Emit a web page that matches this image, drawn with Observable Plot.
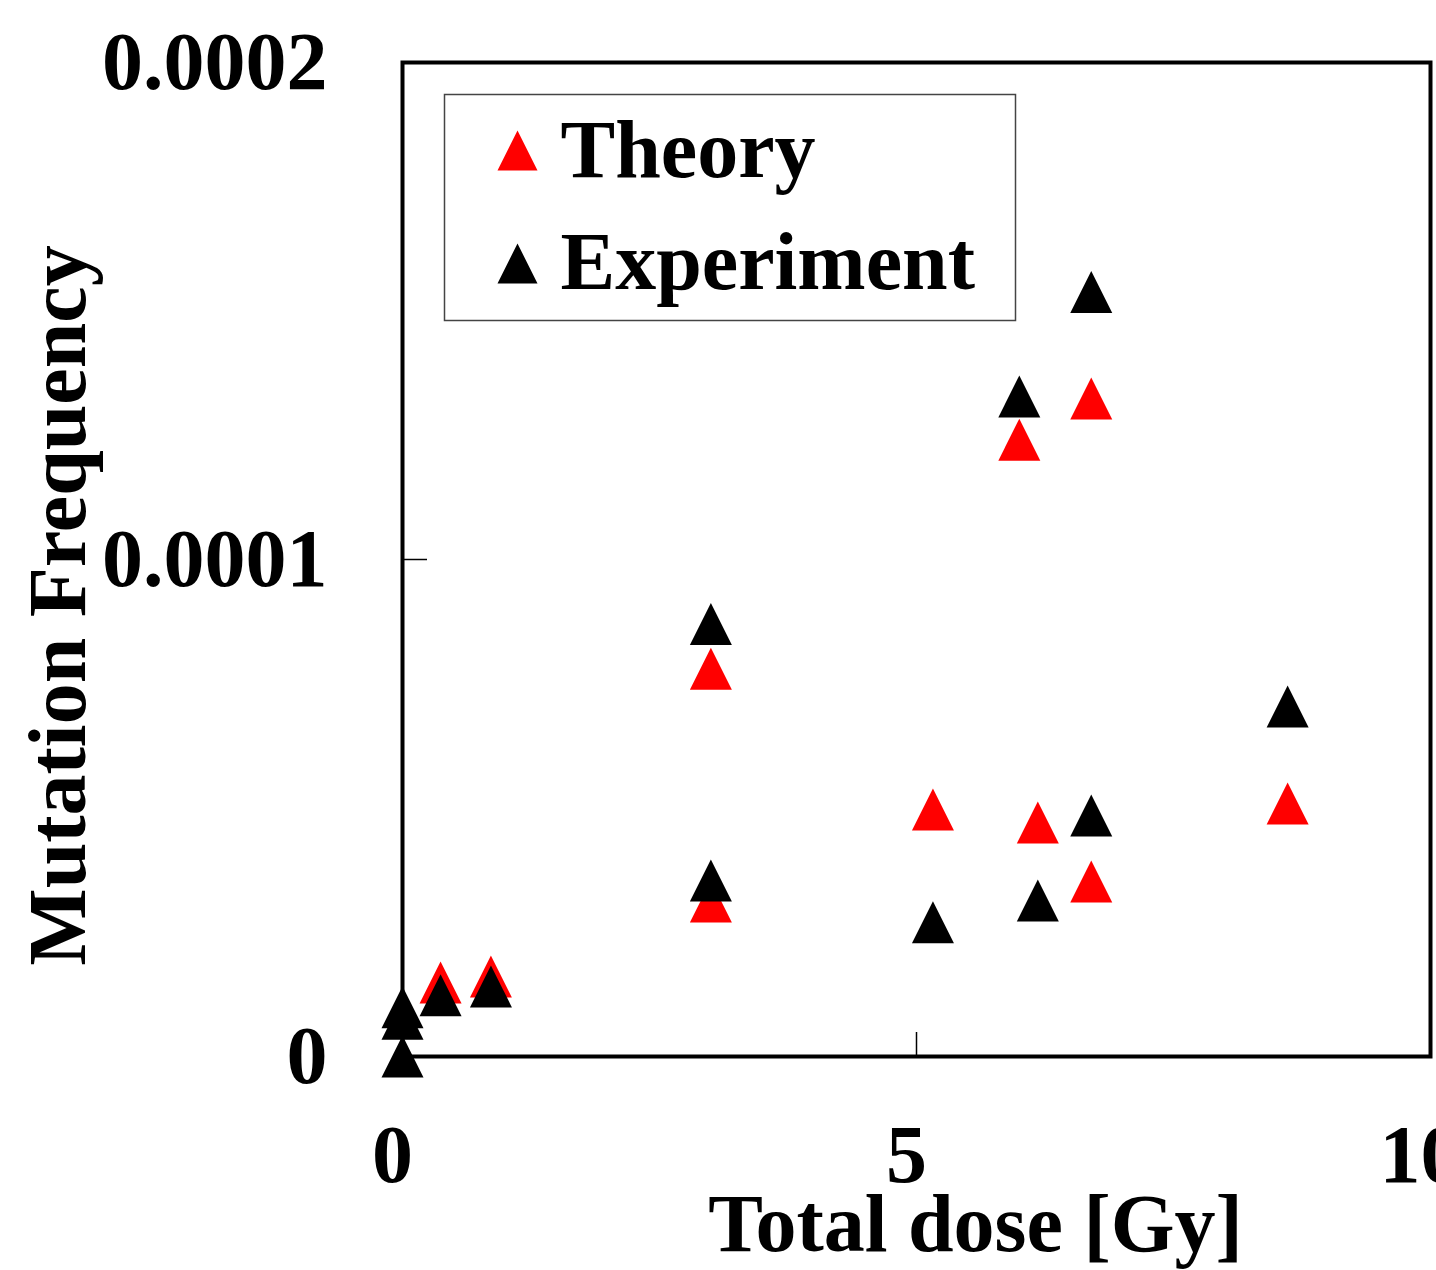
<!DOCTYPE html>
<html><head><meta charset="utf-8">
<script src="https://cdn.jsdelivr.net/npm/d3@7"></script>
<script src="https://cdn.jsdelivr.net/npm/@observablehq/plot@0.6"></script>
<style>html,body{margin:0;padding:0;background:#fff;overflow:hidden}</style>
</head><body><div id="chart"></div>
<script>
// ---- data ----
const theoryDose = [0.37, 0.86, 3.0, 3.0, 5.16, 6.0, 6.18, 6.70, 6.70, 8.61];
const theoryFreq = [1.49e-5, 1.61e-5, 7.8e-5, 3.12e-5, 4.97e-5, 1.241e-4, 4.71e-5, 1.324e-4, 3.52e-5, 5.09e-5];
const expDose = [0, 0, 0, 0.37, 0.86, 3.0, 3.0, 5.16, 6.0, 6.18, 6.70, 6.70, 8.61];
const expFreq = [0, 7.6e-6, 9.9e-6, 1.23e-5, 1.41e-5, 8.7e-5, 3.54e-5, 2.7e-5, 1.328e-4, 3.14e-5, 1.538e-4, 4.85e-5, 7.04e-5];
const xTicks = [0, 5, 10];
const xTickLabels = ["0", "5", "10"];
const yTicks = [0, 0.0001, 0.0002];
const yTickLabels = ["0", "0.0001", "0.0002"];
const seriesNames = ["Theory", "Experiment"];
const seriesColors = ["#ff0000", "#000000"];
const xTitle = "Total dose [Gy]";
const yTitle = "Mutation Frequency";

const theory = theoryDose.map((x, i) => ({x, y: theoryFreq[i]}));
const experiment = expDose.map((x, i) => ({x, y: expFreq[i]}));

// isosceles triangle marker (width = height = 2r)
const tri = {
  draw(context, size) {
    const h = Math.sqrt(size / Math.PI);
    context.moveTo(0, -h);
    context.lineTo(h, h);
    context.lineTo(-h, h);
    context.closePath();
  }
};

const W = 1436, H = 1270, ML = 402, MR = 6, MT = 62, MB = 214;
const font = "'Liberation Serif', 'Times New Roman', serif";
const txt = {fontSize: 82, fontWeight: "bold", fontFamily: font, fill: "#000"};

const legendMarks = seriesNames.flatMap((name, i) => [
  Plot.dot([name], {frameAnchor: "top-left", dx: 115, dy: 88 + i * 113, r: 20, symbol: tri, fill: seriesColors[i]}),
  Plot.text([name], {frameAnchor: "top-left", dx: 158, dy: 88 + i * 112, textAnchor: "start", lineAnchor: "middle", ...txt})
]);

const chart = Plot.plot({
  width: W, height: H,
  marginLeft: ML, marginRight: MR, marginTop: MT, marginBottom: MB,
  x: {domain: [0, 10], axis: null},
  y: {domain: [0, 0.0002], axis: null},
  style: {fontFamily: font, background: "#fff", overflow: "visible"},
  marks: [
    Plot.tickY([yTicks[1]], {y: d => d, insetRight: (W - ML - MR) - 25, stroke: "#000", strokeWidth: 1.5}),
    Plot.tickX([xTicks[1]], {x: d => d, insetTop: (H - MT - MB) - 24, stroke: "#000", strokeWidth: 1.5}),
    Plot.text(yTicks, {y: d => d, text: (d, i) => yTickLabels[i], frameAnchor: "left", textAnchor: "end", lineAnchor: "middle", dx: -75, ...txt}),
    Plot.text(xTicks, {x: d => d, text: (d, i) => xTickLabels[i], frameAnchor: "bottom", textAnchor: "middle", lineAnchor: "middle", dx: -10, dy: 99, ...txt}),
    Plot.text([xTitle], {frameAnchor: "bottom", textAnchor: "middle", lineAnchor: "middle", dx: 59, dy: 168, ...txt}),
    Plot.text([yTitle], {frameAnchor: "left", textAnchor: "middle", lineAnchor: "middle", rotate: -90, dx: -344, dy: 46, ...txt}),
    Plot.dot(theory, {x: "x", y: "y", r: 21, symbol: tri, fill: seriesColors[0]}),
    Plot.dot(experiment, {x: "x", y: "y", r: 21, symbol: tri, fill: seriesColors[1]}),
    Plot.frame({insetLeft: 42, insetTop: 32, insetRight: (W - ML - MR) - (1015 - ML), insetBottom: (H - MT - MB) - (320 - MT), stroke: "#444", strokeWidth: 1.5, fill: "none"}),
    ...legendMarks,
    Plot.frame({stroke: "#000", strokeWidth: 4})
  ]
});
document.getElementById("chart").appendChild(chart);
</script>
</body></html>
